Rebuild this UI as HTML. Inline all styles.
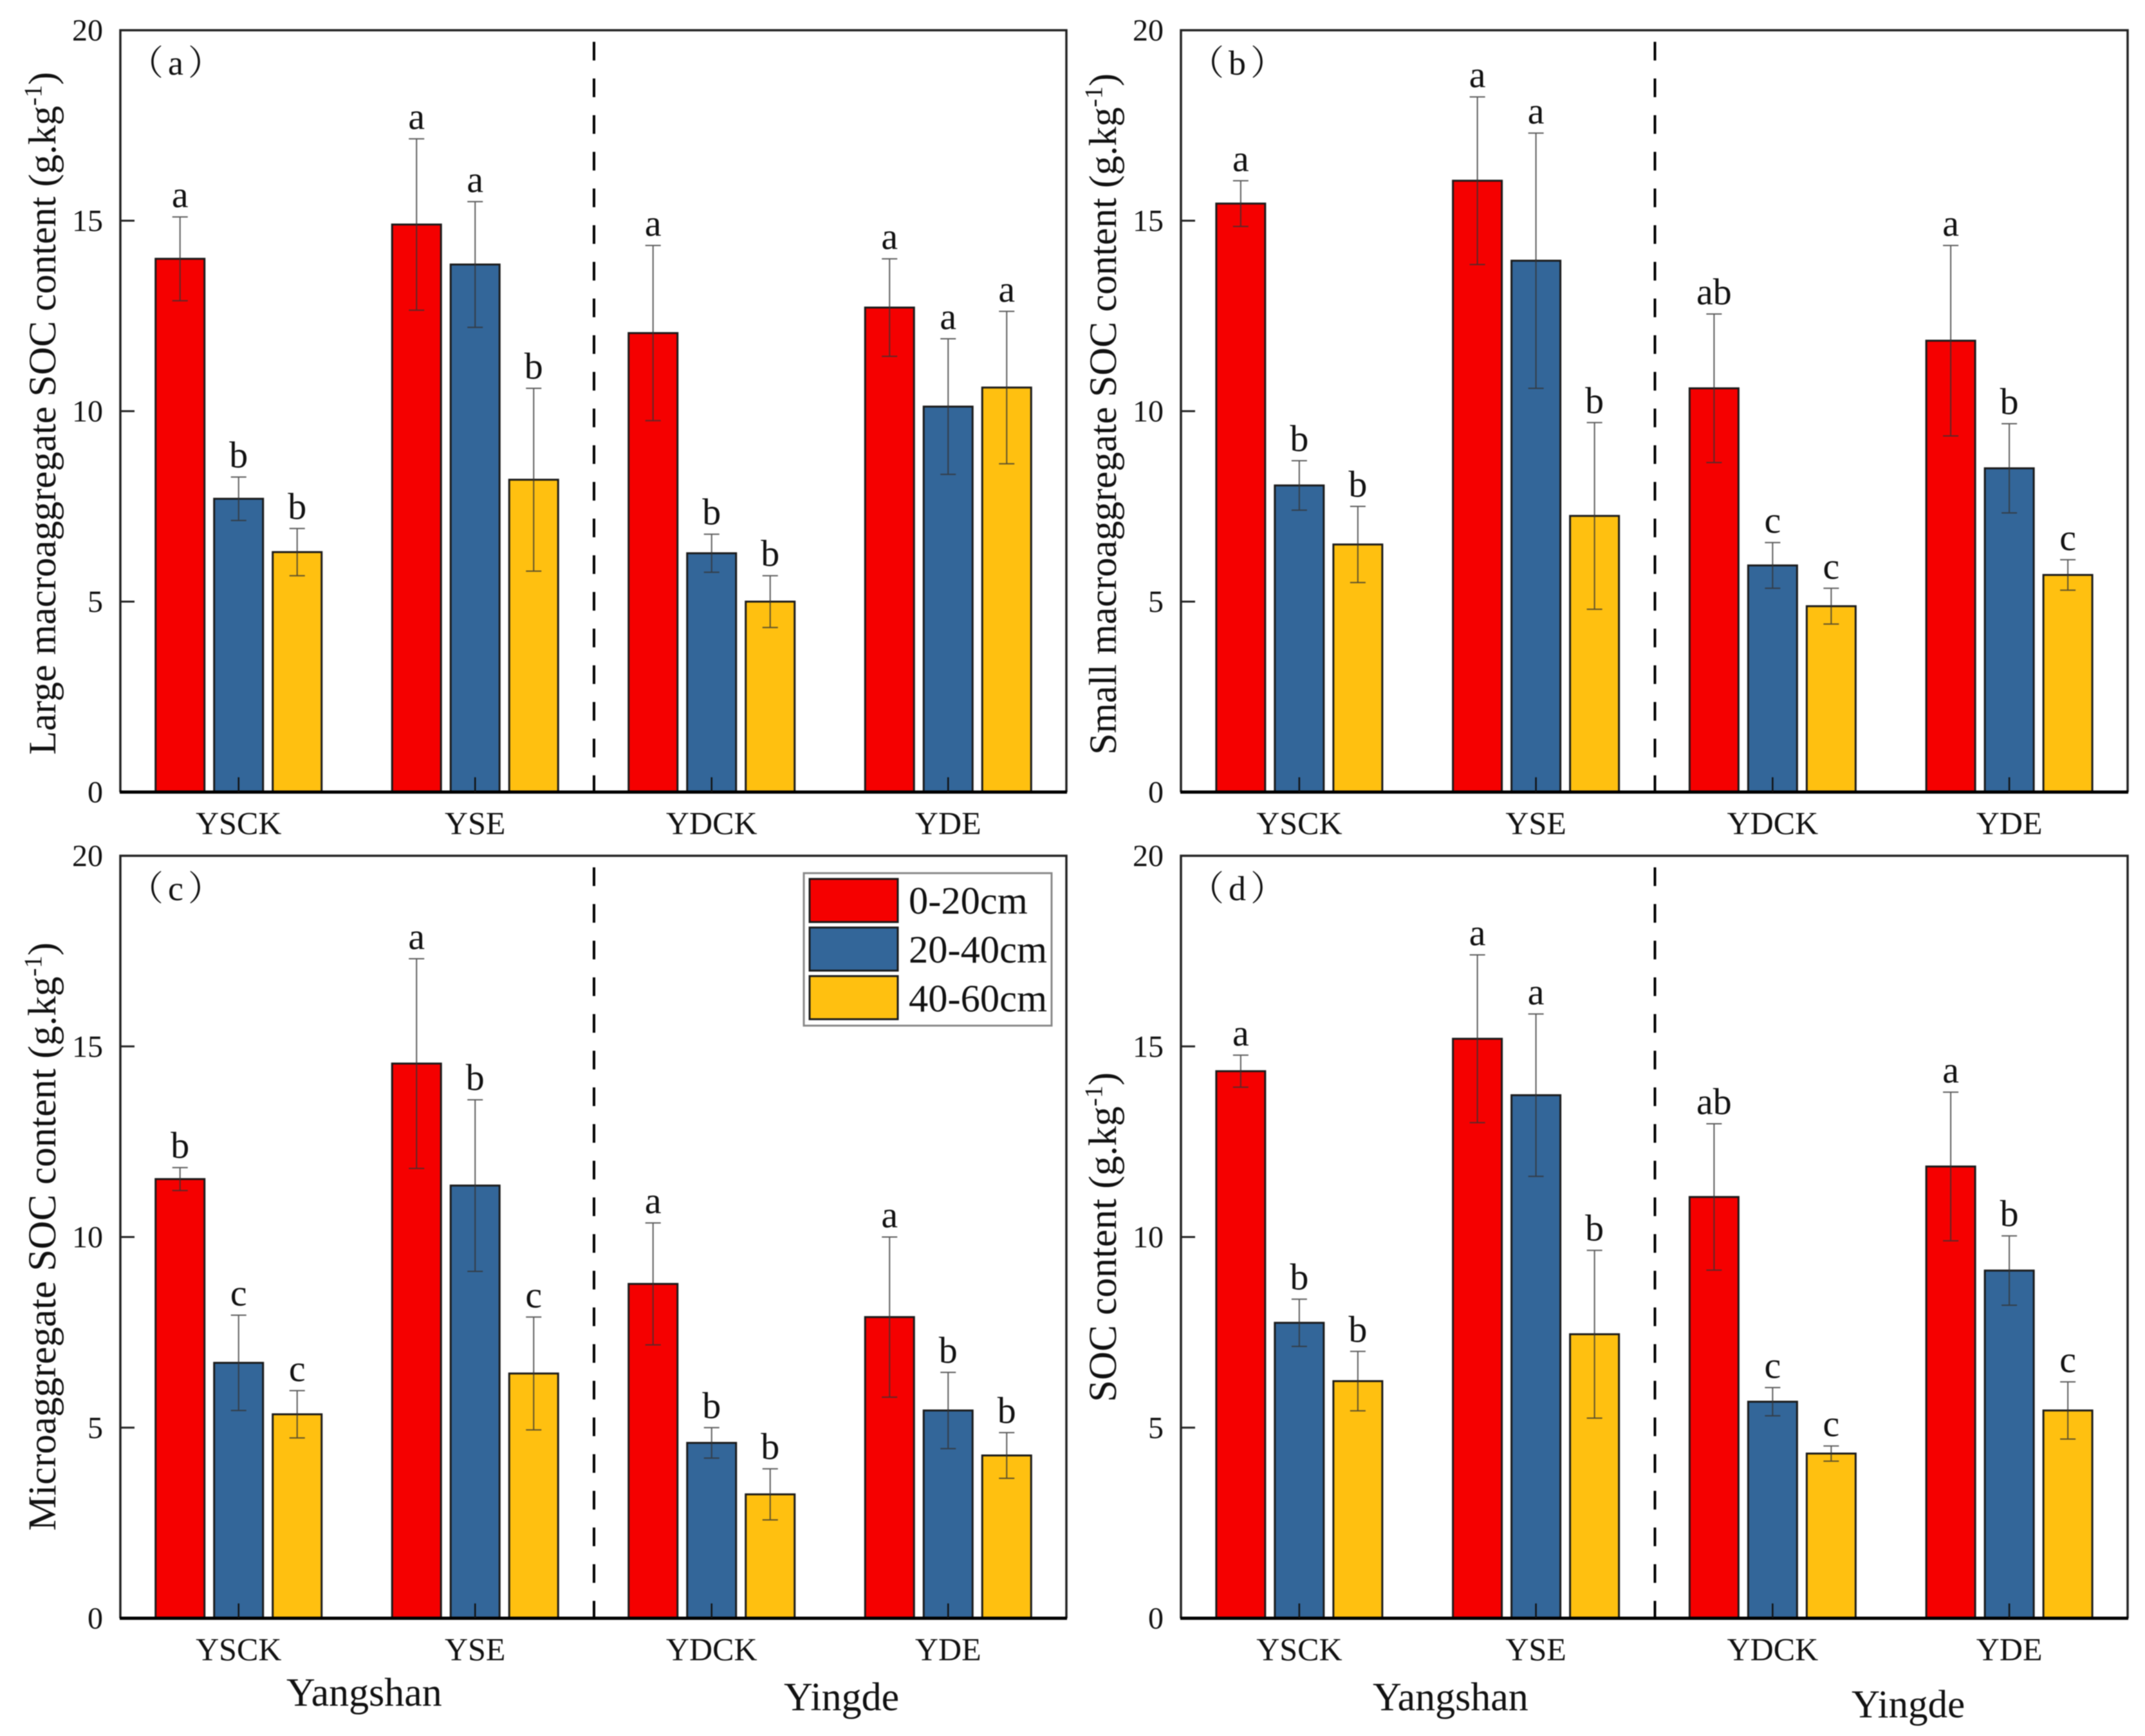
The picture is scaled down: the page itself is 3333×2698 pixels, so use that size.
<!DOCTYPE html>
<html>
<head>
<meta charset="utf-8">
<title>SOC content bar charts</title>
<style>
html,body{margin:0;padding:0;background:#fff;}
svg{display:block;filter:blur(0.7px);}
text{font-family:"Liberation Serif","Noto Serif CJK SC",serif;fill:#111;}
</style>
</head>
<body>
<svg id="chart" xmlns="http://www.w3.org/2000/svg" width="3333" height="2698" viewBox="0 0 3333 2698"></svg>
<script>
const categories = ['YSCK', 'YSE', 'YDCK', 'YDE'];
const seriesNames = ['0-20cm', '20-40cm', '40-60cm'];
const seriesColors = ['#f50000', '#336699', '#ffc010'];
const yTicks = [0, 5, 10, 15, 20];

const meansA = [[14.0, 14.9, 12.05, 12.72], [7.7, 13.85, 6.27, 10.12], [6.3, 8.2, 5.0, 10.62]];
const errorsA = [[1.1, 2.25, 2.3, 1.28], [0.57, 1.65, 0.5, 1.78], [0.62, 2.4, 0.68, 2.0]];
const lettersA = [['a', 'a', 'a', 'a'], ['b', 'a', 'b', 'a'], ['b', 'b', 'b', 'a']];

const meansB = [[15.45, 16.05, 10.6, 11.85], [8.05, 13.95, 5.95, 8.5], [6.5, 7.25, 4.88, 5.7]];
const errorsB = [[0.6, 2.2, 1.95, 2.5], [0.65, 3.35, 0.6, 1.17], [1.0, 2.45, 0.47, 0.4]];
const lettersB = [['a', 'a', 'ab', 'a'], ['b', 'a', 'c', 'b'], ['b', 'b', 'c', 'c']];

const meansC = [[11.52, 14.55, 8.77, 7.9], [6.7, 11.35, 4.6, 5.45], [5.35, 6.42, 3.25, 4.27]];
const errorsC = [[0.3, 2.75, 1.6, 2.1], [1.25, 2.25, 0.4, 1.0], [0.62, 1.48, 0.67, 0.6]];
const lettersC = [['b', 'a', 'a', 'a'], ['c', 'b', 'b', 'b'], ['c', 'c', 'b', 'b']];

const meansD = [[14.35, 15.2, 11.05, 11.85], [7.75, 13.72, 5.68, 9.12], [6.22, 7.45, 4.32, 5.45]];
const errorsD = [[0.42, 2.2, 1.92, 1.95], [0.62, 2.13, 0.37, 0.91], [0.78, 2.2, 0.2, 0.75]];
const lettersD = [['a', 'a', 'ab', 'a'], ['b', 'a', 'c', 'b'], ['b', 'b', 'c', 'c']];

const svg = document.getElementById('chart');
const NS = 'http://www.w3.org/2000/svg';

function make(tag, attrs, parent, txt) {
  const el = document.createElementNS(NS, tag);
  for (const k in attrs) el.setAttribute(k, attrs[k]);
  if (txt !== undefined) el.textContent = txt;
  (parent || svg).appendChild(el);
  return el;
}

function drawPanel(cfg) {
  const g = make('g', {}, svg);
  
  

  const yScale = v => cfg.bottom - (v / 20) * (cfg.bottom - cfg.top);
  const xScale = i => cfg.left + (cfg.right - cfg.left) * (i + 0.5) / 4;
  const barStep = 91, barWidth = 76;

  for (let s = 0; s < 3; s++) {
    for (let c = 0; c < 4; c++) {
      const cx = xScale(c) + (s - 1) * barStep;
      const yv = yScale(cfg.means[s][c]);
      const bar = make('rect', {x: cx - barWidth / 2, y: yv, width: barWidth, height: cfg.bottom - yv, fill: seriesColors[s], stroke: '#1a1a1a', 'stroke-width': 3}, g);
      
      

      const yHi = yScale(cfg.means[s][c] + cfg.errors[s][c]);
      const yLo = yScale(cfg.means[s][c] - cfg.errors[s][c]);
      const eb = make('path', {d: 'M' + cx + ' ' + yHi + 'V' + yLo + 'M' + (cx - 12) + ' ' + yHi + 'H' + (cx + 12) + 'M' + (cx - 12) + ' ' + yLo + 'H' + (cx + 12), stroke: '#333', 'stroke-opacity': 0.8, 'stroke-width': 2, fill: 'none'}, g);
      
      

      const lab = make('text', {x: cx, y: yHi - 15, 'text-anchor': 'middle', 'font-size': 58}, g, cfg.letters[s][c]);
      
      
    }
  }

  const midX = cfg.left + (cfg.right - cfg.left) / 2 + 1;
  const dash = make('line', {x1: midX, x2: midX, y1: cfg.top + 18, y2: cfg.bottom, stroke: '#000', 'stroke-width': 4, 'stroke-dasharray': '29 28'}, g);
  
  

  const frame = make('path', {d: 'M' + cfg.left + ' ' + cfg.bottom + 'V' + cfg.top + 'H' + cfg.right + 'V' + cfg.bottom, stroke: '#222', 'stroke-width': 3.5, fill: 'none'}, g);
  
  
  const xAxis = make('line', {x1: cfg.left - 1, x2: cfg.right + 1, y1: cfg.bottom, y2: cfg.bottom, stroke: '#000', 'stroke-width': 5}, g);
  
  

  yTicks.forEach(t => {
    const y = yScale(t);
    if (t > 0 && t < 20) {
      const tk = make('line', {x1: cfg.left, x2: cfg.left + 22, y1: y, y2: y, stroke: '#222', 'stroke-width': 3}, g);
      
      
    }
    const tl = make('text', {x: cfg.left - 27, y: y + 16, 'text-anchor': 'end', 'font-size': 48}, g, String(t));
    
    
  });

  categories.forEach((name, c) => {
    const x = xScale(c);
    const tk = make('line', {x1: x, x2: x, y1: cfg.bottom - 23, y2: cfg.bottom, stroke: '#111', 'stroke-width': 2.5}, g);
    
    
    const tl = make('text', {x: x, y: cfg.bottom + 65, 'text-anchor': 'middle', 'font-size': 50}, g, name);
    
    
  });

  const yt = make('text', {transform: 'translate(' + (cfg.left - 101) + ',' + cfg.titleStart + ') rotate(-90)', 'font-size': cfg.titleSize}, g, cfg.title + ' (g.kg');
  
  
  make('tspan', {dy: -22, 'font-size': 39}, yt, '-1');
  make('tspan', {dy: 22}, yt, ')');

  const pl = make('text', {x: cfg.left + 13, y: cfg.top + 69, 'font-size': 54, 'letter-spacing': 7}, g, '（' + cfg.id + '）');
  
  
}

drawPanel({id: 'a', left: 187, right: 1657, top: 47, bottom: 1231, means: meansA, errors: errorsA, letters: lettersA, title: 'Large macroaggregate SOC content', titleStart: 1173, titleSize: 60.5});
drawPanel({id: 'b', left: 1835, right: 3306, top: 47, bottom: 1231, means: meansB, errors: errorsB, letters: lettersB, title: 'Small macroaggregate SOC content', titleStart: 1173, titleSize: 60.3});
drawPanel({id: 'c', left: 187, right: 1657, top: 1330, bottom: 2515, means: meansC, errors: errorsC, letters: lettersC, title: 'Microaggregate SOC content', titleStart: 2379, titleSize: 61.3});
drawPanel({id: 'd', left: 1835, right: 3306, top: 1330, bottom: 2515, means: meansD, errors: errorsD, letters: lettersD, title: 'SOC content', titleStart: 2179, titleSize: 61.5});

const legend = make('g', {}, svg);


const legendBox = make('rect', {x: 1249, y: 1357, width: 385, height: 237, fill: '#fff', stroke: '#888', 'stroke-width': 3}, legend);


seriesNames.forEach((name, s) => {
  const sw = make('rect', {x: 1258, y: 1366 + s * 75.5, width: 137, height: 67, fill: seriesColors[s], stroke: '#1a1a1a', 'stroke-width': 3}, legend);
  
  
  const tx = make('text', {x: 1412, y: 1420 + s * 76, 'font-size': 60.5}, legend, name);
  
  
});

const yangshanLeft = make('text', {x: 445, y: 2651, 'font-size': 62}, svg, 'Yangshan');


const yingdeLeft = make('text', {x: 1218, y: 2658, 'font-size': 62}, svg, 'Yingde');


const yangshanRight = make('text', {x: 2133, y: 2658, 'font-size': 62}, svg, 'Yangshan');


const yingdeRight = make('text', {x: 2877, y: 2669, 'font-size': 61}, svg, 'Yingde');


</script>
</body>
</html>
